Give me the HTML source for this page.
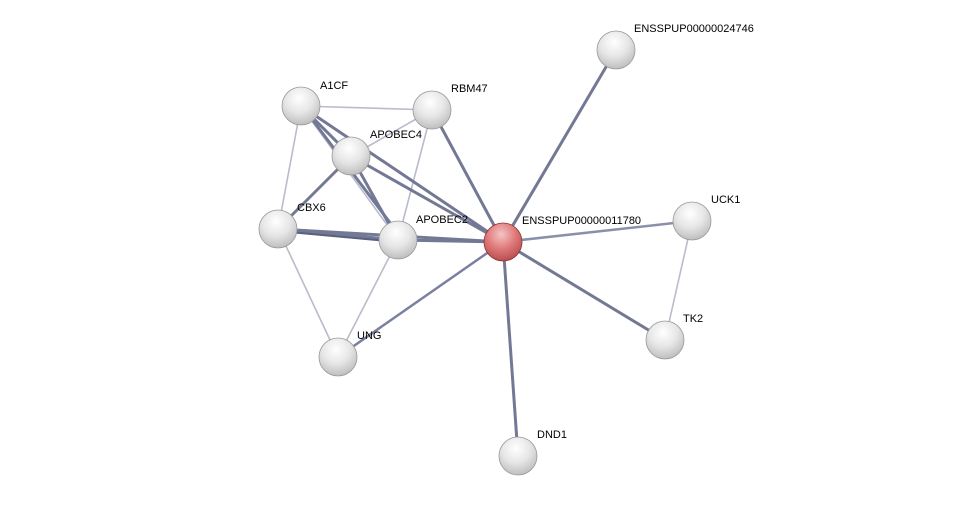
<!DOCTYPE html>
<html><head><style>
html,body{margin:0;padding:0;background:#fff;}
svg text{font-family:"Liberation Sans",sans-serif;font-size:11px;fill:#000;}
</style></head><body>
<svg width="976" height="501" viewBox="0 0 976 501" xmlns="http://www.w3.org/2000/svg">
<defs>
<radialGradient id="g" cx="0.45" cy="0.3" r="0.75">
<stop offset="0" stop-color="#ffffff"/><stop offset="0.5" stop-color="#e6e6e6"/><stop offset="1" stop-color="#b8b8b8"/>
</radialGradient>
<radialGradient id="r" cx="0.45" cy="0.3" r="0.75">
<stop offset="0" stop-color="#f4c4c4"/><stop offset="0.5" stop-color="#e07a7a"/><stop offset="1" stop-color="#b04848"/>
</radialGradient>
</defs>
<g stroke-linecap="round">
<g stroke="#b8bccb" stroke-width="1.6">
<line x1="301" y1="106" x2="432" y2="110"/>
<line x1="301" y1="106" x2="278" y2="229"/>
<line x1="278" y1="229" x2="338" y2="357"/>
<line x1="338" y1="357" x2="398" y2="240"/>
<line x1="432" y1="110" x2="398" y2="240"/>
<line x1="351" y1="156" x2="432" y2="110"/>
<line x1="351" y1="156" x2="398" y2="240"/>
<line x1="301" y1="106" x2="398" y2="240"/>
<line x1="692" y1="221" x2="665" y2="340"/>
</g>
<g stroke="#737995" stroke-width="3">
<line x1="503" y1="242" x2="616" y2="50"/>
<line x1="503" y1="242" x2="432" y2="110"/>
<line x1="503" y1="242" x2="692" y2="221" stroke="#8a90aa" stroke-width="2.5"/>
<line x1="503" y1="242" x2="665" y2="340"/>
<line x1="503" y1="242" x2="518" y2="456"/>
<line x1="503" y1="242" x2="338" y2="357" stroke="#7a80a0" stroke-width="2.5"/>
<line x1="503" y1="242" x2="301" y2="106"/>
<line x1="503" y1="242" x2="351" y2="156"/>
<line x1="503" y1="242" x2="398" y2="240"/>
<line x1="503" y1="242" x2="278" y2="229"/>
<line x1="301" y1="106" x2="351" y2="156"/>
<line x1="305" y1="110" x2="400" y2="236"/>
<line x1="351" y1="156" x2="278" y2="229"/>
<line x1="351" y1="156" x2="398" y2="240"/>
<line x1="278" y1="229" x2="398" y2="240"/>
<line x1="278" y1="231" x2="398" y2="242" stroke="#5a6080" stroke-width="2"/>
</g>
</g>
<g stroke="#999" stroke-width="0.8">
<circle cx="616" cy="50" r="19" fill="url(#g)"/>
<circle cx="301" cy="106" r="19" fill="url(#g)"/>
<circle cx="432" cy="110" r="19" fill="url(#g)"/>
<circle cx="351" cy="156" r="19" fill="url(#g)"/>
<circle cx="278" cy="229" r="19" fill="url(#g)"/>
<circle cx="398" cy="240" r="19" fill="url(#g)"/>
<circle cx="692" cy="221" r="19" fill="url(#g)"/>
<circle cx="665" cy="340" r="19" fill="url(#g)"/>
<circle cx="338" cy="357" r="19" fill="url(#g)"/>
<circle cx="518" cy="456" r="19" fill="url(#g)"/>
<circle cx="503" cy="242" r="19" fill="url(#r)" stroke="#903030"/>
</g>
<text x="634" y="32">ENSSPUP00000024746</text>
<text x="320" y="89">A1CF</text>
<text x="451" y="92">RBM47</text>
<text x="370" y="138">APOBEC4</text>
<text x="297" y="211">CBX6</text>
<text x="416" y="223">APOBEC2</text>
<text x="522" y="224">ENSSPUP00000011780</text>
<text x="711" y="203">UCK1</text>
<text x="683" y="322">TK2</text>
<text x="357" y="339">UNG</text>
<text x="537" y="438">DND1</text>
</svg>
</body></html>
